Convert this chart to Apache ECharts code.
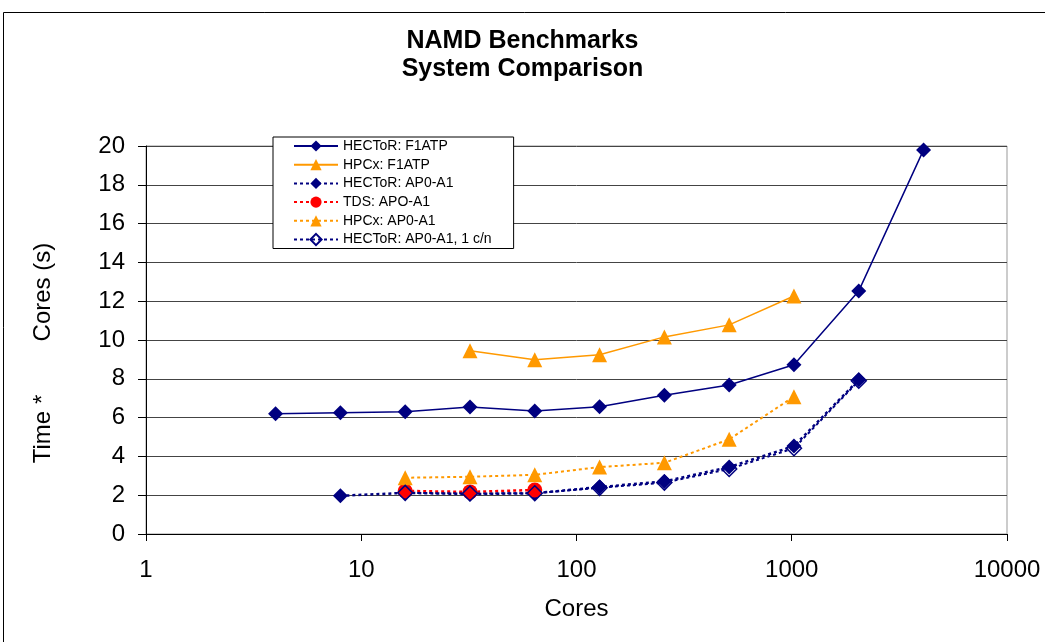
<!DOCTYPE html>
<html>
<head>
<meta charset="utf-8">
<script src="https://cdn.jsdelivr.net/npm/echarts@6/dist/echarts.min.js"></script>
<style>
html,body{margin:0;padding:0;background:#fff;}
#chart{width:1045px;height:642px;}
</style>
</head>
<body>
<div id="chart"></div>
<script>
// ---- data ----
const seriesNames = ['HECToR: F1ATP', 'HPCx: F1ATP', 'HECToR: AP0-A1', 'TDS: APO-A1', 'HPCx: AP0-A1', 'HECToR: AP0-A1, 1 c/n'];

const coresHectorF1 = [4, 8, 16, 32, 64, 128, 256, 512, 1024, 2048, 4096];
const hectorF1 = [6.2, 6.25, 6.3, 6.55, 6.34, 6.56, 7.15, 7.68, 8.72, 12.53, 19.8];

const coresHpcxF1 = [32, 64, 128, 256, 512, 1024];
const hpcxF1 = [9.45, 8.98, 9.24, 10.16, 10.78, 12.27];

const coresHectorAP = [8, 16, 32, 64, 128, 256, 512, 1024, 2048];
const hectorAP = [1.97, 2.12, 2.06, 2.1, 2.42, 2.71, 3.45, 4.53, 7.95];

const coresTds = [16, 32, 64];
const tdsAP = [2.22, 2.17, 2.27];

const coresHpcxAP = [16, 32, 64, 128, 256, 512, 1024];
const hpcxAP = [2.9, 2.95, 3.05, 3.45, 3.67, 4.88, 7.08];

const coresHector1cn = [16, 32, 64, 128, 256, 512, 1024, 2048];
const hector1cn = [2.12, 2.09, 2.1, 2.38, 2.65, 3.35, 4.42, 7.9];

const xTicks = [1, 10, 100, 1000, 10000];
const yTicks = [0, 2, 4, 6, 8, 10, 12, 14, 16, 18, 20];

const titleText = 'NAMD Benchmarks\nSystem Comparison';
const xName = 'Cores';
const yName = 'Time *        Cores (s)';

// ---- build ----
const pairs = (xs, ys) => xs.map((x, i) => [x, ys[i]]);
const NAVY = '#000080', ORANGE = '#FF9900', RED = '#FF0000';
const FONT = '"Liberation Sans", Arial, sans-serif';
const dotted = [3, 3];

const chart = echarts.init(document.getElementById('chart'), null, {renderer: 'canvas'});
chart.setOption({
  animation: false,
  backgroundColor: '#fff',
  graphic: [{
    type: 'rect', silent: true, z: -10,
    shape: {x: 3.5, y: 12.5, width: 1100, height: 700},
    style: {fill: 'none', stroke: '#000', lineWidth: 1}
  }],
  title: {
    text: titleText,
    left: 'center', top: 27, padding: 0,
    textStyle: {fontFamily: FONT, fontSize: 25, fontWeight: 'bold', color: '#000', lineHeight: 28}
  },
  legend: {
    orient: 'vertical',
    left: 273, top: 137,
    padding: [2, 22, 2, 20],
    itemWidth: 44, itemHeight: 14, itemGap: 4.7,
    backgroundColor: '#fff',
    borderColor: '#000', borderWidth: 1,
    textStyle: {fontFamily: FONT, fontSize: 14, color: '#000'},
    data: seriesNames
  },
  grid: {
    left: 146, right: 38, top: 146, bottom: 108,
    show: true, borderColor: '#999', borderWidth: 1, backgroundColor: 'transparent'
  },
  xAxis: {
    type: 'log', logBase: 10, min: xTicks[0], max: xTicks[xTicks.length - 1],
    name: xName, nameLocation: 'middle', nameGap: 63,
    nameTextStyle: {fontFamily: FONT, fontSize: 24, color: '#000'},
    axisLine: {lineStyle: {color: '#000', width: 1}},
    axisTick: {show: true, inside: false, length: 7, lineStyle: {color: '#000'}},
    minorTick: {show: false},
    splitLine: {show: false},
    axisLabel: {fontFamily: FONT, fontSize: 24, color: '#000', margin: 24,
      formatter: v => String(Math.round(v))}
  },
  yAxis: {
    type: 'value', min: yTicks[0], max: yTicks[yTicks.length - 1], interval: 2,
    name: yName, nameLocation: 'middle', nameGap: 91, nameRotate: 90,
    nameTextStyle: {fontFamily: FONT, fontSize: 24, color: '#000', padding: [0, 26, 0, 0]},
    axisLine: {show: true, lineStyle: {color: '#000', width: 1}},
    axisTick: {show: true, inside: false, length: 8, lineStyle: {color: '#000'}},
    splitLine: {show: true, lineStyle: {color: '#444', width: 1}},
    axisLabel: {fontFamily: FONT, fontSize: 24, color: '#000', margin: 21}
  },
  series: [
    {
      name: seriesNames[0], type: 'line', data: pairs(coresHectorF1, hectorF1),
      symbol: 'diamond', symbolSize: 15, showAllSymbol: true,
      itemStyle: {color: NAVY}, lineStyle: {color: NAVY, width: 1.5, type: 'solid'}
    },
    {
      name: seriesNames[1], type: 'line', data: pairs(coresHpcxF1, hpcxF1),
      symbol: 'triangle', symbolSize: 15,
      itemStyle: {color: ORANGE}, lineStyle: {color: ORANGE, width: 1.5, type: 'solid'}
    },
    {
      name: seriesNames[2], type: 'line', data: pairs(coresHectorAP, hectorAP),
      symbol: 'diamond', symbolSize: 15,
      itemStyle: {color: NAVY}, lineStyle: {color: NAVY, width: 2.5, type: dotted}
    },
    {
      name: seriesNames[3], type: 'line', data: pairs(coresTds, tdsAP),
      symbol: 'circle', symbolSize: 15,
      itemStyle: {color: RED}, lineStyle: {color: RED, width: 2.5, type: dotted}
    },
    {
      name: seriesNames[4], type: 'line', data: pairs(coresHpcxAP, hpcxAP),
      symbol: 'triangle', symbolSize: 15,
      itemStyle: {color: ORANGE}, lineStyle: {color: ORANGE, width: 2, type: dotted}
    },
    {
      name: seriesNames[5], type: 'line', data: pairs(coresHector1cn, hector1cn),
      symbol: 'diamond', symbolSize: 15,
      itemStyle: {color: 'rgba(255,255,255,0)', borderColor: NAVY, borderWidth: 1.5},
      lineStyle: {color: NAVY, width: 2, type: dotted}
    }
  ]
});
</script>
</body>
</html>
